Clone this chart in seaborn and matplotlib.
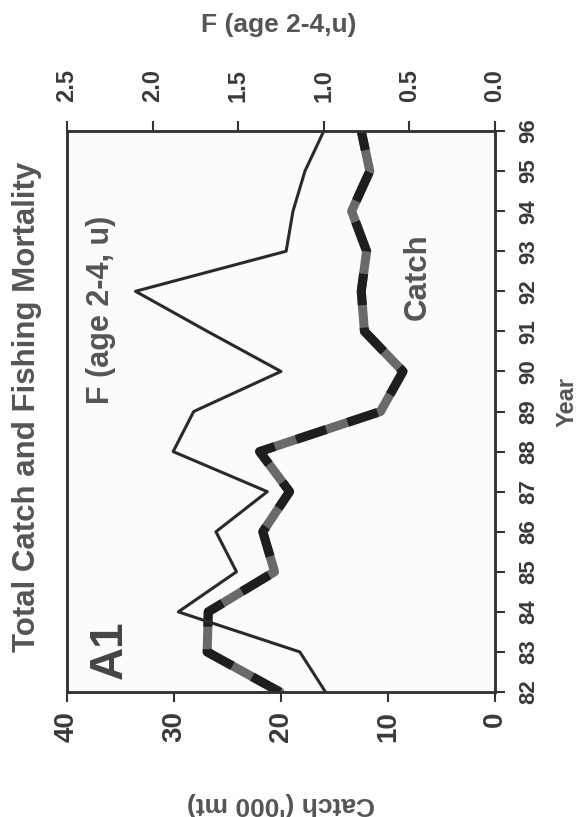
import matplotlib
matplotlib.use("Agg")
import matplotlib.pyplot as plt
from matplotlib import font_manager
import seaborn as sns
import pandas as pd

years = [82, 83, 84, 85, 86, 87, 88, 89, 90, 91, 92, 93, 94, 95, 96]
catch = [20.1, 26.9, 26.8, 20.6, 21.7, 19.2, 22.0, 10.7, 8.6, 12.2, 12.5, 12.0, 13.4, 11.7, 12.5]
fmort = [0.99, 1.14, 1.85, 1.51, 1.63, 1.33, 1.88, 1.76, 1.25, 1.68, 2.10, 1.22, 1.18, 1.11, 1.00]
year_ticks = list(range(82, 97))
catch_ticks = [0, 10, 20, 30, 40]
f_ticks = [0.0, 0.5, 1.0, 1.5, 2.0, 2.5]

sns.set_style("white")
plt.rcParams['font.family'] = ['Liberation Sans', 'DejaVu Sans']
plt.rcParams['font.weight'] = 'bold'

names = {f.name for f in font_manager.fontManager.ttflist}
narrow = 'Liberation Sans Narrow' if 'Liberation Sans Narrow' in names else 'Liberation Sans'

df = pd.DataFrame({"Year": years, "Catch": catch, "F": fmort})

W, H = 581, 817
fig = plt.figure(figsize=(W / 100, H / 100), dpi=100)
ax = fig.add_axes([67 / W, 1 - 692 / H, 428 / W, 561 / H])
ax.set_facecolor("#fbfbfb")
ax2 = ax.twiny()

txt = "#3a3a3a"

# Catch line (thick, gray with dark dashes)
sns.lineplot(data=df, x="Catch", y="Year", orient="y", ax=ax, color="#6a6a6a",
             linewidth=6.5)
sns.lineplot(data=df, x="Catch", y="Year", orient="y", ax=ax, color="#1e1e1e",
             linewidth=6.5)
ax.lines[-1].set_linestyle((0, (3.5, 2.5)))

# F line (thin)
sns.lineplot(data=df, x="F", y="Year", orient="y", ax=ax2, color="#2a2a2a",
             linewidth=2.2)

ax.set_xlim(40, 0)
ax2.set_xlim(2.5, 0)
ax.set_ylim(82, 96)

ax.set_xticks(catch_ticks)
ax.set_xticklabels([str(v) for v in catch_ticks], rotation=90, fontsize=20,
                   color=txt, fontweight="bold")
ax2.set_xticks(f_ticks)
ax2.set_xticklabels([f"{v:.1f}" for v in f_ticks], rotation=90, fontsize=17,
                    color=txt, fontweight="bold")
ax.set_yticks(year_ticks)
ax.yaxis.tick_right()
ax.set_yticklabels([str(v) for v in year_ticks], rotation=90, fontsize=16,
                   color=txt, fontweight="bold", va="center", family=[narrow, 'DejaVu Sans'])

ax.tick_params(axis="x", direction="out", length=7, width=1.5, colors="#333333",
               labelcolor=txt, pad=7)
ax2.tick_params(axis="x", direction="out", length=7, width=1.5, colors="#333333",
                labelcolor=txt, pad=14)
ax.tick_params(axis="y", direction="out", length=7, width=1.5, colors="#333333",
               labelcolor=txt, pad=10, left=False, right=True)

for a in (ax, ax2):
    for s in a.spines.values():
        s.set_visible(True)
        s.set_linewidth(1.8)
        s.set_color("#333333")

ax.set_xlabel("")
ax.set_ylabel("")
ax2.set_xlabel("")
ax2.set_ylabel("")

# Axis titles placed as in the rotated reference
fig.text(281 / W, 1 - 804 / H, "Catch ('000 mt)", rotation=180, ha="center", va="center",
         fontsize=19, color="#555555", fontweight="bold")
fig.text(279 / W, 1 - 25 / H, "F (age 2-4,u)", rotation=0, ha="center", va="center",
         fontsize=19, color="#555555", fontweight="bold")
fig.text(567 / W, 1 - 402 / H, "Year", rotation=90, ha="center", va="center",
         fontsize=17, color="#555555", fontweight="bold")
fig.text(27 / W, 1 - 407 / H, "Total Catch and Fishing Mortality", rotation=90,
         ha="center", va="center", fontsize=22.5, color="#555555", fontweight="bold")

# In-plot annotations
ax.text(0.10, 0.075, "A1", transform=ax.transAxes, rotation=90, ha="center",
        va="center", fontsize=33, color="#444444", fontweight="bold")
ax.text(0.079, 0.681, "F (age 2-4, u)", transform=ax.transAxes, rotation=90,
        ha="center", va="center", fontsize=22, color="#555555", fontweight="bold")
ax.text(0.82, 0.74, "Catch", transform=ax.transAxes, rotation=90,
        ha="center", va="center", fontsize=22.5, color="#555555", fontweight="bold")

fig.savefig("out.png", dpi=100, facecolor="white")
